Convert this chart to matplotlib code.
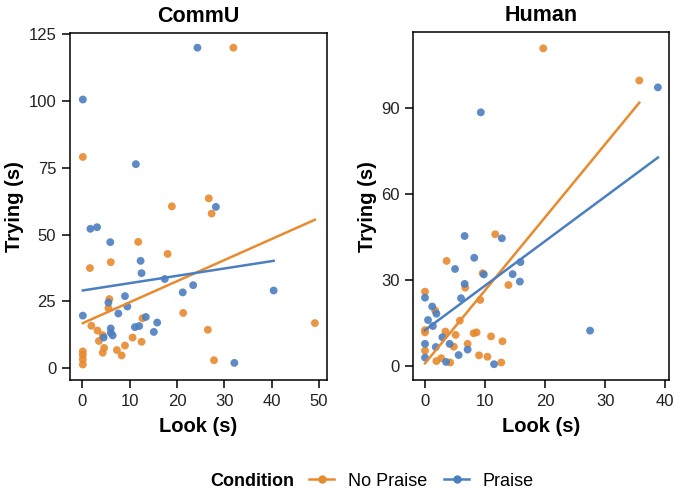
# CommU vs Human: tempo di "Trying" rispetto al tempo di "Look", per condizione
import matplotlib.pyplot as plt
from matplotlib.lines import Line2D

plt.rcParams["font.family"] = ["Liberation Sans", "DejaVu Sans"]

ORANGE = "#E88A2E"
BLUE = "#4C7FC0"

# dati (secondi)
commu_nopraise_look = [31.9, 0.1, 26.7, 27.3, 18.9, 11.8, 18.0, 1.6, 6.0, 5.7, 5.5, 21.3, 12.7, 49.1,
                       1.9, 3.2, 26.5, 4.3, 10.6, 3.5, 12.5, 9.0, 4.6, 4.3, 7.3, 8.3, 0.1, 0.1, 0.1, 0.1, 27.8]
commu_nopraise_trying = [120, 79.1, 63.6, 57.9, 60.6, 47.3, 42.8, 37.5, 39.7, 25.9, 22.5, 20.7, 18.7, 16.9,
                         15.9, 14.1, 14.4, 12.4, 11.5, 10.2, 9.9, 8.5, 7.6, 5.8, 6.8, 4.8, 6.3, 5.0, 3.3, 1.4, 3.0]
commu_praise_look = [24.3, 0.1, 11.3, 28.2, 1.7, 3.1, 5.9, 12.3, 12.5, 17.4, 23.4, 21.2, 40.4, 0.1,
                     5.5, 9.0, 9.5, 7.6, 13.4, 15.8, 12.0, 11.1, 15.1, 6.0, 6.0, 6.4, 4.5, 32.1]
commu_praise_trying = [120, 100.6, 76.4, 60.4, 52.2, 52.8, 47.2, 40.2, 35.6, 33.4, 31.1, 28.4, 29.1, 19.7,
                       24.6, 27.0, 23.1, 20.5, 19.2, 17.1, 15.8, 15.4, 13.6, 14.9, 13.3, 12.3, 11.5, 2.0]

human_nopraise_look = [19.7, 35.7, 11.7, 3.6, 9.6, 6.7, 13.9, 0.0, 1.7, 9.2, 5.8, 0.0, 0.0, 3.4,
                       5.1, 8.1, 8.6, 11.0, 12.9, 7.1, 4.8, 0.0, 9.0, 10.4, 2.7, 1.9, 4.2, 12.7]
human_nopraise_trying = [110.7, 99.5, 45.9, 36.6, 32.3, 27.3, 28.2, 25.9, 19.3, 23.0, 15.8, 12.5, 11.7, 12.0,
                         10.8, 11.4, 11.7, 10.3, 8.6, 7.7, 6.7, 5.3, 3.7, 3.2, 2.7, 1.7, 1.2, 1.2]
human_praise_look = [38.8, 9.3, 6.6, 12.8, 8.2, 5.0, 15.9, 9.8, 14.6, 15.8, 6.6, 6.0, 0.0, 1.2,
                     1.9, 0.5, 1.3, 27.5, 2.9, 0.0, 4.1, 1.8, 7.1, 5.6, 0.0, 3.5, 11.5]
human_praise_trying = [97.1, 88.4, 45.3, 44.5, 37.7, 33.8, 36.2, 31.9, 32.0, 29.4, 28.6, 23.6, 23.8, 20.7,
                       18.2, 16.0, 13.9, 12.3, 10.0, 7.7, 7.7, 6.6, 5.7, 3.8, 2.9, 1.4, 0.6]

# rette di regressione: (intercetta, pendenza)
commu_fit = {"No Praise": (16.8, 0.79), "Praise": (29.1, 0.275)}
human_fit = {"No Praise": (0.9, 2.545), "Praise": (12.5, 1.55)}

panels = [
    ("CommU", [commu_nopraise_look, commu_praise_look], [commu_nopraise_trying, commu_praise_trying],
     commu_fit, [0, 10, 20, 30, 40, 50], [0, 25, 50, 75, 100, 125], (-2.6, 51.6), (-4.4, 125.4)),
    ("Human", [human_nopraise_look, human_praise_look], [human_nopraise_trying, human_praise_trying],
     human_fit, [0, 10, 20, 30, 40], [0, 30, 60, 90], (-1.95, 40.7), (-4.9, 116.3)),
]
conditions = ["No Praise", "Praise"]
colors = [ORANGE, BLUE]

fig = plt.figure(figsize=(6.76, 4.9), dpi=100)
boxes = [[0.1036, 0.2245, 0.3797, 0.7076], [0.6114, 0.2245, 0.3787, 0.7096]]

for box, (title, xs, ys, fit, xt, yt, xl, yl) in zip(boxes, panels):
    ax = fig.add_axes(box)
    for cond, col, x, y in zip(conditions, colors, xs, ys):
        ax.scatter(x, y, s=32, color=col, alpha=0.9, edgecolors="none", zorder=2)
        a, b = fit[cond]
        x0, x1 = min(x), max(x)
        ax.plot([x0, x1], [a + b * x0, a + b * x1], color=col, lw=1.8, zorder=3)
    ax.set_xticks(xt)
    ax.set_yticks(yt)
    ax.set_xlim(*xl)
    ax.set_ylim(*yl)
    ax.set_title(title, fontsize=15.5, fontweight="bold", pad=8)
    ax.set_xlabel("Look (s)", fontsize=14.5, fontweight="bold", labelpad=6)
    ax.set_ylabel("Trying (s)", fontsize=14.5, fontweight="bold", labelpad=3)
    ax.tick_params(labelsize=12, length=6, width=1.1, pad=4, colors="black", labelcolor="#222222")
    for sp in ax.spines.values():
        sp.set_linewidth(1.1)

handles = [Line2D([0], [0], color=c, lw=1.8, marker="o", markersize=5) for c in colors]
fig.text(0.435, 0.018, "Condition", fontsize=13, fontweight="bold", ha="right", va="center")
fig.legend(handles, conditions, loc="center left", bbox_to_anchor=(0.433, 0.018), ncol=2,
           frameon=False, fontsize=13, handlelength=1.4, handletextpad=0.75, columnspacing=0.95)

fig.savefig("out.png", dpi=100)
